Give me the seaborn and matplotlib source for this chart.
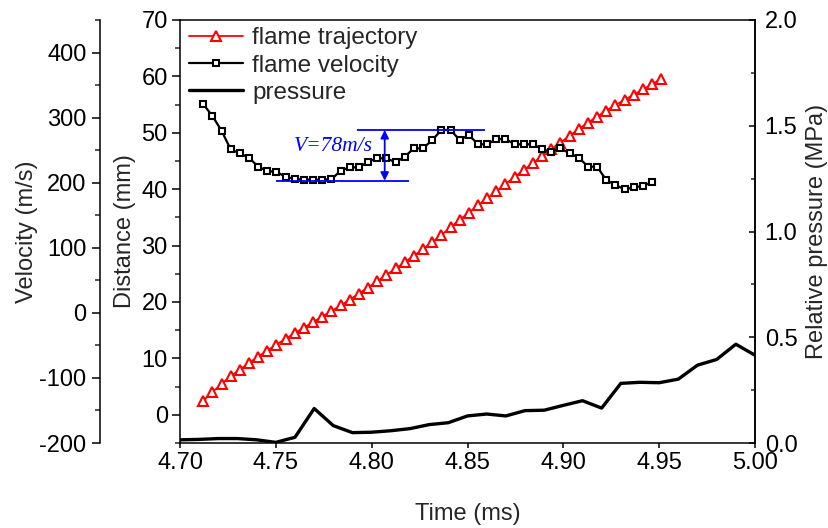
import matplotlib
matplotlib.use("Agg")
import matplotlib.pyplot as plt
from matplotlib.ticker import MultipleLocator, FormatStrFormatter
import pandas as pd
import seaborn as sns

# ---------------- data ----------------
time_traj = [4.7121, 4.7169, 4.7217, 4.7264, 4.7312, 4.7360, 4.7408, 4.7456, 4.7503, 4.7551,
             4.7599, 4.7647, 4.7695, 4.7742, 4.7790, 4.7838, 4.7886, 4.7934, 4.7981, 4.8029,
             4.8077, 4.8125, 4.8173, 4.8220, 4.8268, 4.8316, 4.8364, 4.8412, 4.8459, 4.8507,
             4.8555, 4.8603, 4.8651, 4.8698, 4.8746, 4.8794, 4.8842, 4.8890, 4.8937, 4.8985,
             4.9033, 4.9081, 4.9129, 4.9176, 4.9224, 4.9272, 4.9320, 4.9368, 4.9415, 4.9463,
             4.9511]
distance = [2.50, 4.03, 5.48, 6.82, 8.02, 9.19, 10.33, 11.40, 12.45, 13.48,
            14.48, 15.47, 16.45, 17.42, 18.40, 19.38, 20.43, 21.50, 22.57, 23.68,
            24.81, 25.95, 27.05, 28.20, 29.41, 30.62, 31.89, 33.23, 34.58, 35.85,
            37.15, 38.39, 39.63, 40.91, 42.18, 43.42, 44.66, 45.89, 47.09, 48.28,
            49.49, 50.66, 51.80, 52.87, 53.95, 54.92, 55.86, 56.77, 57.69, 58.62,
            59.58]

time_vel = [4.7121, 4.7169, 4.7217, 4.7264, 4.7312, 4.7360, 4.7408, 4.7456, 4.7503, 4.7551,
            4.7599, 4.7647, 4.7695, 4.7742, 4.7790, 4.7838, 4.7886, 4.7934, 4.7981, 4.8029,
            4.8077, 4.8125, 4.8173, 4.8220, 4.8268, 4.8316, 4.8364, 4.8412, 4.8459, 4.8507,
            4.8555, 4.8603, 4.8651, 4.8698, 4.8746, 4.8794, 4.8842, 4.8890, 4.8937, 4.8985,
            4.9033, 4.9081, 4.9129, 4.9176, 4.9224, 4.9272, 4.9320, 4.9368, 4.9415, 4.9463]
velocity = [320.9, 302.5, 279.9, 251.3, 245.1, 238.4, 224.6, 218.0, 216.4, 209.2,
            205.7, 204.6, 204.6, 204.6, 205.2, 218.4, 223.6, 223.6, 232.2, 237.5,
            237.5, 231.3, 240.0, 252.8, 252.8, 265.6, 281.0, 281.0, 265.6, 273.3,
            259.0, 259.0, 267.1, 267.1, 259.0, 259.0, 259.0, 251.3, 247.6, 252.8,
            245.1, 238.4, 224.6, 224.6, 204.1, 196.4, 189.8, 192.9, 194.9, 201.0]

time_p = [4.70, 4.71, 4.72, 4.73, 4.74, 4.75, 4.76, 4.77, 4.78, 4.79, 4.80,
          4.81, 4.82, 4.83, 4.84, 4.85, 4.86, 4.87, 4.88, 4.89, 4.90,
          4.91, 4.92, 4.93, 4.94, 4.95, 4.96, 4.97, 4.98, 4.99, 5.00]
pressure = [0.015, 0.017, 0.021, 0.021, 0.015, 0.003, 0.027, 0.163, 0.082, 0.049, 0.051,
            0.058, 0.068, 0.087, 0.096, 0.128, 0.137, 0.128, 0.153, 0.155, 0.178,
            0.200, 0.165, 0.282, 0.287, 0.285, 0.302, 0.368, 0.395, 0.467, 0.415]

series_labels = ["flame trajectory", "flame velocity", "pressure"]
v_hump_peak = 281.0   # upper reference line of the annotation (m/s)
delta_v = 78          # annotated velocity jump (m/s)
annot_text = "V=78m/s"

# ---------------- style ----------------
sns.set_theme(style="ticks")
plt.rcParams["font.family"] = ["Liberation Sans", "DejaVu Sans"]
plt.rcParams["axes.unicode_minus"] = False
plt.rcParams["axes.linewidth"] = 1.1
FS = 17

fig = plt.figure(figsize=(8.29, 5.28), dpi=100)
fig.patch.set_facecolor("white")
L, B, W, H = 180 / 829, 85 / 528, 575 / 829, 423 / 528
ax = fig.add_axes([L, B, W, H])
ax_v = ax.twinx()
ax_p = ax.twinx()

df_t = pd.DataFrame({"t": time_traj, "d": distance})
df_v = pd.DataFrame({"t": time_vel, "v": velocity})
df_p = pd.DataFrame({"t": time_p, "p": pressure})

sns.lineplot(data=df_t, x="t", y="d", ax=ax, color="red", lw=1.3, marker="^",
             ms=7, mfc="white", mec="red", mew=1.5, errorbar=None,
             label=series_labels[0])
sns.lineplot(data=df_v, x="t", y="v", ax=ax_v, color="black", lw=1.6, marker="s",
             ms=4.6, mfc="white", mec="black", mew=1.5, errorbar=None,
             label=series_labels[1])
sns.lineplot(data=df_p, x="t", y="p", ax=ax_p, color="black", lw=2.4,
             errorbar=None, label=series_labels[2])

# axes limits / ticks
ax.set_xlim(4.70, 5.00)
ax.xaxis.set_major_locator(MultipleLocator(0.05))
ax.xaxis.set_major_formatter(FormatStrFormatter("%.2f"))
ax.set_ylim(-5, 70)
ax.yaxis.set_major_locator(MultipleLocator(10))
ax.yaxis.set_minor_locator(MultipleLocator(5))
ax_v.set_ylim(-200, 450)
ax_v.yaxis.set_major_locator(MultipleLocator(100))
ax_v.yaxis.set_minor_locator(MultipleLocator(50))
ax_p.set_ylim(0, 2.0)
ax_p.yaxis.set_major_locator(MultipleLocator(0.5))
ax_p.yaxis.set_minor_locator(MultipleLocator(0.25))
ax_p.yaxis.set_major_formatter(FormatStrFormatter("%.1f"))

# velocity axis on the far left
ax_v.yaxis.set_ticks_position("left")
ax_v.yaxis.set_label_position("left")
ax_v.spines["left"].set_position(("outward", 80 * 0.72))
for s in ["top", "bottom", "right"]:
    ax_v.spines[s].set_visible(False)
ax_v.spines["left"].set_visible(True)
for s in ["top", "bottom", "left"]:
    ax_p.spines[s].set_visible(False)
for s in ["top", "right"]:
    ax.spines[s].set_visible(True)
for a in (ax, ax_v, ax_p):
    for s in a.spines.values():
        s.set_color("black")
        s.set_linewidth(1.1)

ax.tick_params(axis="x", direction="out", length=3.6, width=1.1, pad=3,
               labelsize=FS, colors="black", top=False)
ax.tick_params(axis="y", which="major", direction="out", length=5.8, width=1.1,
               pad=3, labelsize=FS, colors="black", right=False)
ax.tick_params(axis="y", which="minor", direction="out", length=3.5, width=1.1, right=False)
ax_v.tick_params(axis="y", which="major", direction="out", length=5.8, width=1.1,
                 pad=4, labelsize=FS, colors="black")
ax_v.tick_params(axis="y", which="minor", direction="out", length=3.5, width=1.1)
ax_p.tick_params(axis="y", which="major", direction="in", length=4.5, width=1.1,
                 pad=7, labelsize=FS, colors="black")
ax_p.tick_params(axis="y", which="minor", direction="in", length=3, width=1.1)

ax.set_xlabel("Time (ms)", fontsize=FS)
ax.set_ylabel("Distance (mm)", fontsize=FS)
ax_v.set_ylabel("Velocity (m/s)", fontsize=FS)
ax_p.set_ylabel("Relative pressure (MPa)", fontsize=FS)
ax.xaxis.set_label_coords(0.5, -0.142)
ax.yaxis.set_label_coords(-0.0765, 0.5)
ax_v.yaxis.set_label_coords(-0.247, 0.5)
ax_p.yaxis.set_label_coords(1.089, 0.5)

# annotation of the velocity jump
v_low = v_hump_peak - delta_v
ANN_LOW_X = (4.750, 4.8193)
ANN_HIGH_X = (4.7922, 4.8589)
ANN_ARROW_X = 4.8068
ax_v.hlines(v_low, *ANN_LOW_X, color="blue", lw=1.3)
ax_v.hlines(v_hump_peak, *ANN_HIGH_X, color="blue", lw=1.3)
ax_v.annotate("", xy=(ANN_ARROW_X, v_hump_peak), xytext=(ANN_ARROW_X, v_low),
              arrowprops=dict(arrowstyle="<|-|>", color="blue", lw=1.3,
                              mutation_scale=12, shrinkA=0, shrinkB=0))
ax_v.text(4.7802, 249, annot_text, color="blue", fontsize=15.5, style="italic",
          family=["Liberation Serif", "DejaVu Serif"], ha="center", va="baseline")

# combined legend
handles, labels = [], []
for a in (ax, ax_v, ax_p):
    h, l = a.get_legend_handles_labels()
    handles += h
    labels += l
    if a.get_legend() is not None:
        a.get_legend().remove()
ax_p.legend(handles, labels, loc="upper left", bbox_to_anchor=(0.016, 0.983),
            frameon=False, fontsize=17.5, handlelength=2.2, handletextpad=0.4,
            labelspacing=0.22, borderpad=0.0, borderaxespad=0.0, numpoints=1)

fig.savefig("out.png", dpi=100, facecolor="white")
